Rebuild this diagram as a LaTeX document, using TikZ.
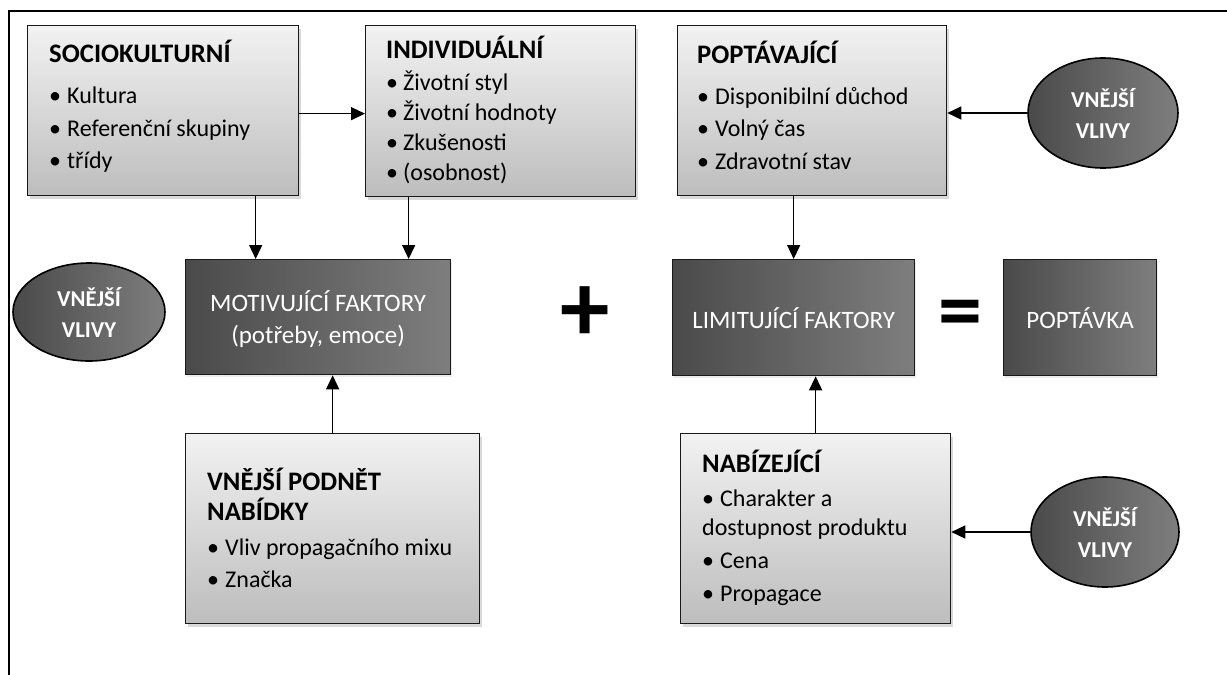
\documentclass[tikz,border=0pt]{standalone}
\usepackage{fontspec}
\setmainfont{Carlito}
\usetikzlibrary{arrows.meta,shadows,shapes.geometric,calc}
\definecolor{lt}{HTML}{F2F2F2}
\definecolor{lb}{HTML}{BDBDBD}
\definecolor{dl}{HTML}{4A4A4A}
\definecolor{dr}{HTML}{7E7E7E}
\begin{document}
\begin{tikzpicture}[x=1pt,y=-1pt,
  lightbox/.style={draw=black!90, line width=1.3pt, top color=lt, bottom color=lb,
    drop shadow={shadow xshift=2pt, shadow yshift=-3pt, opacity=0.3}, anchor=north west, inner sep=0pt},
  darkbox/.style={draw=black!90, line width=1.3pt, left color=dl, right color=dr,
    drop shadow={shadow xshift=1.5pt, shadow yshift=-2pt, opacity=0.15},
    anchor=north west, inner sep=0pt},
  darkell/.style={ellipse, draw=black, line width=1.6pt, left color=dl, right color=dr, inner sep=0pt},
  listtxt/.style={anchor=base west, align=left, inner sep=0pt, font=\fontsize{24}{29.3}\selectfont},
  darktxt/.style={text=white, align=center, font=\fontsize{25}{32}\selectfont},
  elltxt/.style={text=white, align=center, font=\fontsize{22.7}{31}\selectfont\bfseries},
  arr/.style={line width=1.4pt, -{Triangle[length=14pt,width=13pt]}},
  frame/.style={line width=1.8pt}
]
\useasboundingbox (0,0) rectangle (1227,675);
\newcommand{\ttl}[1]{{\fontsize{26.7}{29.3}\selectfont\bfseries #1}}
\newcommand{\bul}{\makebox[18pt][l]{•}}
% frame
\coordinate (fa) at (1227,11);
\coordinate (fb) at (9,11);
\coordinate (fc) at (9,675);
\draw[frame] (fa) -- (fb) -- (fc);
% light boxes
\node[lightbox, minimum width=271, minimum height=170] (soc) at (27,25) {};
\node[lightbox, minimum width=270, minimum height=171] (ind) at (365,25) {};
\node[lightbox, minimum width=269, minimum height=170] (pop) at (677,25) {};
\node[lightbox, minimum width=294, minimum height=190] (vnp) at (185,433) {};
\node[lightbox, minimum width=270, minimum height=190] (nab) at (680,433) {};
% dark boxes
\node[darkbox, minimum width=265, minimum height=115] (mot) at (185,259) {};
\node[darkbox, minimum width=242, minimum height=116] (lim) at (672,259) {};
\node[darkbox, minimum width=153, minimum height=116] (popt) at (1003,259) {};
% ellipses
\node[darkell, minimum width=152, minimum height=98] (e1) at (89,312) {};
\node[darkell, minimum width=150, minimum height=110] (e2) at (1103,113) {};
\node[darkell, minimum width=148, minimum height=110] (e3) at (1105,532) {};
% texts (anchored at the baseline of the last line)
\node[listtxt] (soct) at (49,168) {\ttl{SOCIOKULTURNÍ}\\[11.7pt]\bul Kultura\\[3.7pt]\bul Referenční skupiny\\[2.7pt]\bul třídy};
\node[listtxt] (indt) at (386,180) {\ttl{INDIVIDUÁLNÍ}\\[2.7pt]\makebox[17pt][l]{•}Životní styl\\[1.4pt]\makebox[17pt][l]{•}Životní hodnoty\\[0.7pt]\makebox[17pt][l]{•}Zkušenosti\\\makebox[17pt][l]{•}(osobnost)};
\node[listtxt] (popt1) at (697,169) {\ttl{POPTÁVAJÍCÍ}\\[11.7pt]\bul Disponibilní důchod\\[2.7pt]\bul Volný čas\\[3.2pt]\bul Zdravotní stav};
\node[listtxt] (vnpt) at (207,587) {\ttl{VNĚJŠÍ PODNĚT}\\[0.7pt]\ttl{NABÍDKY}\\[5.7pt]\bul Vliv propagačního mixu\\[2.7pt]\bul Značka};
\node[listtxt] (nabt) at (702,601) {\ttl{NABÍZEJÍCÍ}\\[4pt]\bul Charakter a\\dostupnost produktu\\[4pt]\bul Cena\\[3pt]\bul Propagace};
\node[darktxt] (mott) at ([yshift=-2pt]mot.center) {MOTIVUJÍCÍ FAKTORY\\(potřeby, emoce)};
\node[darktxt] (limt) at (lim.center) {LIMITUJÍCÍ FAKTORY};
\node[darktxt] (poptt) at (popt.center) {POPTÁVKA};
\node[elltxt] (e1t) at (e1.center) {VNĚJŠÍ\\VLIVY};
\node[elltxt] (e2t) at (e2.center) {VNĚJŠÍ\\VLIVY};
\node[elltxt] (e3t) at (e3.center) {VNĚJŠÍ\\VLIVY};
\node[font=\fontsize{99}{99}\selectfont\bfseries, inner sep=0pt] (plus) at (585,314) {+};
\node[font=\fontsize{88}{88}\selectfont\bfseries, inner sep=0pt] (eq) at (960,320) {=};
% arrows
\draw[arr] ([yshift=-3pt]soc.east) -- ([yshift=-3pt]soc.east -| ind.west);
\draw[arr] (e2.west) -- (e2.west -| pop.east);
\draw[arr] ([xshift=92.5]soc.south) -- ([xshift=92.5]soc.south |- mot.north);
\draw[arr] ([xshift=-92]ind.south) -- ([xshift=-92]ind.south |- mot.north);
\draw[arr] (lim.north |- pop.south) -- (lim.north);
\draw[arr] (vnp.north) -- (vnp.north |- mot.south);
\draw[arr] (nab.north) -- (nab.north |- lim.south);
\draw[arr] (e3.west) -- (e3.west -| nab.east);
\end{tikzpicture}
\end{document}
